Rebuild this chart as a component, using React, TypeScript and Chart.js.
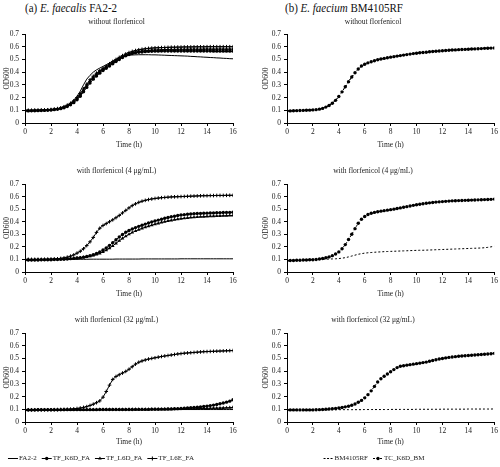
import React, { useEffect, useRef } from "react";
import { Chart, registerables } from "chart.js";
Chart.register(...registerables);

const FONT = '"Liberation Serif", "Times New Roman", serif';

const TIME = [
  0, 0.25, 0.5, 0.75, 1, 1.25, 1.5, 1.75, 2, 2.25, 2.5, 2.75, 3, 3.25, 3.5, 3.75,
  4, 4.25, 4.5, 4.75, 5, 5.25, 5.5, 5.75, 6, 6.25, 6.5, 6.75, 7, 7.25, 7.5, 7.75,
  8, 8.25, 8.5, 8.75, 9, 9.25, 9.5, 9.75, 10, 10.25, 10.5, 10.75, 11, 11.25, 11.5, 11.75,
  12, 12.25, 12.5, 12.75, 13, 13.25, 13.5, 13.75, 14, 14.25, 14.5, 14.75, 15, 15.25, 15.5, 15.75,
  16,
];

const X_TICKS = [0, 2, 4, 6, 8, 10, 12, 14, 16];
const Y_TICKS = [0, 0.1, 0.2, 0.3, 0.4, 0.5, 0.6, 0.7];

// ---- (a) E. faecalis, without florfenicol
const A1_FA22 = [
  0.100, 0.100, 0.100, 0.100, 0.101, 0.102, 0.103, 0.104, 0.106, 0.108, 0.112, 0.118,
  0.128, 0.140, 0.158, 0.180, 0.210, 0.250, 0.300, 0.345, 0.375, 0.400, 0.418, 0.432,
  0.445, 0.458, 0.472, 0.487, 0.500, 0.512, 0.522, 0.528, 0.533, 0.535, 0.536, 0.537,
  0.537, 0.537, 0.537, 0.536, 0.536, 0.535, 0.534, 0.533, 0.532, 0.531, 0.530, 0.529,
  0.528, 0.527, 0.526, 0.524, 0.523, 0.521, 0.520, 0.518, 0.517, 0.515, 0.514, 0.512,
  0.511, 0.509, 0.508, 0.506, 0.505,
];
const A1_K6D = [
  0.095, 0.095, 0.096, 0.096, 0.097, 0.098, 0.099, 0.100, 0.102, 0.105, 0.108, 0.113,
  0.120, 0.130, 0.143, 0.160, 0.182, 0.210, 0.245, 0.280, 0.315, 0.345, 0.370, 0.392,
  0.412, 0.430, 0.448, 0.466, 0.484, 0.500, 0.515, 0.528, 0.538, 0.546, 0.552, 0.556,
  0.559, 0.561, 0.563, 0.564, 0.565, 0.565, 0.566, 0.566, 0.566, 0.566, 0.566, 0.566,
  0.566, 0.566, 0.566, 0.566, 0.566, 0.566, 0.566, 0.566, 0.566, 0.566, 0.565, 0.565,
  0.565, 0.565, 0.565, 0.565, 0.565,
];
const A1_L6D = [
  0.098, 0.098, 0.098, 0.099, 0.099, 0.100, 0.101, 0.102, 0.104, 0.107, 0.111, 0.117,
  0.125, 0.136, 0.150, 0.168, 0.192, 0.222, 0.258, 0.295, 0.330, 0.360, 0.385, 0.405,
  0.423, 0.440, 0.457, 0.474, 0.490, 0.506, 0.520, 0.533, 0.544, 0.552, 0.558, 0.563,
  0.567, 0.570, 0.572, 0.574, 0.575, 0.576, 0.577, 0.578, 0.578, 0.579, 0.579, 0.580,
  0.580, 0.580, 0.581, 0.581, 0.581, 0.581, 0.581, 0.582, 0.582, 0.582, 0.582, 0.582,
  0.582, 0.582, 0.582, 0.582, 0.582,
];
const A1_L6E = [
  0.100, 0.100, 0.100, 0.101, 0.101, 0.102, 0.103, 0.104, 0.106, 0.109, 0.113, 0.119,
  0.128, 0.140, 0.155, 0.174, 0.200, 0.232, 0.268, 0.305, 0.340, 0.368, 0.392, 0.412,
  0.430, 0.448, 0.466, 0.484, 0.500, 0.516, 0.530, 0.543, 0.554, 0.563, 0.570, 0.576,
  0.580, 0.584, 0.587, 0.589, 0.591, 0.592, 0.593, 0.594, 0.595, 0.596, 0.596, 0.597,
  0.597, 0.598, 0.598, 0.598, 0.599, 0.599, 0.599, 0.599, 0.600, 0.600, 0.600, 0.600,
  0.600, 0.600, 0.600, 0.600, 0.600,
];

// ---- (b) E. faecium, without florfenicol
const B1_BM = [
  0.096, 0.096, 0.097, 0.098, 0.099, 0.100, 0.101, 0.102, 0.104, 0.106, 0.110, 0.116,
  0.126, 0.139, 0.156, 0.179, 0.209, 0.246, 0.286, 0.326, 0.363, 0.396, 0.426, 0.449,
  0.463, 0.474, 0.483, 0.491, 0.498, 0.504, 0.509, 0.514, 0.519, 0.523, 0.527, 0.531,
  0.535, 0.539, 0.543, 0.547, 0.550, 0.553, 0.556, 0.558, 0.561, 0.563, 0.565, 0.567,
  0.569, 0.571, 0.573, 0.575, 0.576, 0.578, 0.579, 0.580, 0.581, 0.583, 0.584, 0.585,
  0.586, 0.588, 0.589, 0.590, 0.591,
];
const B1_TC = [
  0.095, 0.095, 0.096, 0.097, 0.098, 0.099, 0.100, 0.101, 0.103, 0.105, 0.109, 0.115,
  0.125, 0.138, 0.155, 0.178, 0.208, 0.245, 0.285, 0.325, 0.362, 0.395, 0.425, 0.448,
  0.462, 0.473, 0.482, 0.490, 0.497, 0.503, 0.508, 0.513, 0.518, 0.522, 0.526, 0.530,
  0.534, 0.538, 0.542, 0.546, 0.549, 0.552, 0.555, 0.557, 0.560, 0.562, 0.564, 0.566,
  0.568, 0.570, 0.572, 0.574, 0.575, 0.577, 0.578, 0.579, 0.580, 0.582, 0.583, 0.584,
  0.585, 0.587, 0.588, 0.589, 0.590,
];

// ---- (a) with florfenicol 4 µg/mL
const A2_FA22 = [
  0.100, 0.100, 0.100, 0.100, 0.100, 0.100, 0.100, 0.100, 0.100, 0.100, 0.100, 0.100,
  0.101, 0.101, 0.101, 0.101, 0.101, 0.101, 0.101, 0.101, 0.102, 0.102, 0.102, 0.102,
  0.102, 0.102, 0.102, 0.102, 0.103, 0.103, 0.103, 0.103, 0.103, 0.103, 0.103, 0.103,
  0.104, 0.104, 0.104, 0.104, 0.104, 0.104, 0.104, 0.104, 0.104, 0.104, 0.104, 0.104,
  0.105, 0.105, 0.105, 0.105, 0.105, 0.105, 0.105, 0.105, 0.105, 0.105, 0.105, 0.105,
  0.105, 0.105, 0.105, 0.105, 0.105,
];
const A2_K6D = [
  0.095, 0.095, 0.095, 0.096, 0.096, 0.097, 0.097, 0.098, 0.098, 0.099, 0.100, 0.101,
  0.102, 0.104, 0.106, 0.108, 0.111, 0.114, 0.118, 0.123, 0.130, 0.138, 0.148, 0.160,
  0.175, 0.192, 0.212, 0.234, 0.256, 0.278, 0.298, 0.316, 0.330, 0.342, 0.353, 0.363,
  0.372, 0.381, 0.390, 0.398, 0.406, 0.413, 0.420, 0.427, 0.433, 0.439, 0.444, 0.449,
  0.453, 0.456, 0.459, 0.461, 0.463, 0.465, 0.466, 0.467, 0.468, 0.469, 0.470, 0.471,
  0.472, 0.473, 0.474, 0.474, 0.475,
];
const A2_L6D = [
  0.098, 0.098, 0.098, 0.098, 0.099, 0.099, 0.099, 0.100, 0.100, 0.101, 0.101, 0.102,
  0.103, 0.104, 0.106, 0.108, 0.110, 0.113, 0.116, 0.120, 0.125, 0.131, 0.139, 0.148,
  0.160, 0.174, 0.190, 0.208, 0.228, 0.248, 0.267, 0.284, 0.300, 0.314, 0.326, 0.337,
  0.347, 0.356, 0.364, 0.372, 0.380, 0.387, 0.394, 0.400, 0.406, 0.411, 0.416, 0.420,
  0.424, 0.427, 0.430, 0.433, 0.435, 0.437, 0.439, 0.440, 0.442, 0.443, 0.444, 0.445,
  0.446, 0.447, 0.448, 0.449, 0.450,
];
const A2_L6E = [
  0.100, 0.100, 0.100, 0.100, 0.100, 0.100, 0.101, 0.101, 0.102, 0.103, 0.105, 0.108,
  0.112, 0.118, 0.126, 0.136, 0.150, 0.165, 0.185, 0.210, 0.240, 0.275, 0.315, 0.348,
  0.370, 0.385, 0.400, 0.415, 0.432, 0.450, 0.470, 0.490, 0.510, 0.528, 0.542, 0.554,
  0.563, 0.570, 0.576, 0.581, 0.585, 0.588, 0.591, 0.593, 0.595, 0.597, 0.598, 0.599,
  0.600, 0.601, 0.602, 0.603, 0.604, 0.605, 0.606, 0.607, 0.607, 0.608, 0.608, 0.609,
  0.609, 0.609, 0.610, 0.610, 0.610,
];

// ---- (b) with florfenicol 4 µg/mL
const B2_BM = [
  0.090, 0.091, 0.092, 0.093, 0.094, 0.095, 0.096, 0.097, 0.098, 0.099, 0.100, 0.101,
  0.102, 0.103, 0.104, 0.105, 0.107, 0.110, 0.114, 0.120, 0.127, 0.134, 0.141, 0.146,
  0.150, 0.153, 0.155, 0.157, 0.159, 0.160, 0.162, 0.163, 0.164, 0.165, 0.166, 0.167,
  0.168, 0.169, 0.170, 0.171, 0.172, 0.173, 0.173, 0.174, 0.175, 0.176, 0.177, 0.178,
  0.179, 0.180, 0.181, 0.182, 0.183, 0.184, 0.185, 0.186, 0.187, 0.188, 0.189, 0.190,
  0.191, 0.193, 0.196, 0.200, 0.205,
];
const B2_TC = [
  0.090, 0.091, 0.092, 0.093, 0.094, 0.095, 0.096, 0.097, 0.098, 0.100, 0.103, 0.107,
  0.113, 0.120, 0.130, 0.143, 0.160, 0.185, 0.218, 0.258, 0.300, 0.345, 0.388, 0.420,
  0.442, 0.457, 0.467, 0.474, 0.479, 0.484, 0.488, 0.492, 0.496, 0.500, 0.505, 0.510,
  0.515, 0.520, 0.525, 0.530, 0.535, 0.539, 0.543, 0.547, 0.550, 0.553, 0.556, 0.558,
  0.560, 0.562, 0.564, 0.566, 0.567, 0.568, 0.569, 0.570, 0.571, 0.572, 0.573, 0.574,
  0.575, 0.576, 0.577, 0.578, 0.580,
];

// ---- (a) with florfenicol 32 µg/mL
const A3_FA22 = [
  0.095, 0.095, 0.095, 0.095, 0.095, 0.095, 0.095, 0.095, 0.095, 0.095, 0.095, 0.095,
  0.095, 0.095, 0.095, 0.095, 0.096, 0.096, 0.096, 0.096, 0.096, 0.096, 0.096, 0.096,
  0.096, 0.096, 0.096, 0.096, 0.096, 0.096, 0.096, 0.096, 0.097, 0.097, 0.097, 0.097,
  0.097, 0.097, 0.097, 0.097, 0.097, 0.097, 0.097, 0.097, 0.097, 0.097, 0.097, 0.097,
  0.098, 0.098, 0.098, 0.098, 0.098, 0.098, 0.098, 0.098, 0.098, 0.098, 0.098, 0.098,
  0.098, 0.098, 0.098, 0.098, 0.098,
];
const A3_K6D = [
  0.095, 0.095, 0.095, 0.095, 0.096, 0.096, 0.096, 0.096, 0.096, 0.096, 0.096, 0.097,
  0.097, 0.097, 0.097, 0.097, 0.097, 0.097, 0.097, 0.097, 0.097, 0.097, 0.097, 0.098,
  0.098, 0.098, 0.098, 0.098, 0.098, 0.098, 0.098, 0.098, 0.098, 0.098, 0.099, 0.099,
  0.099, 0.099, 0.099, 0.100, 0.100, 0.100, 0.101, 0.101, 0.102, 0.103, 0.104, 0.105,
  0.106, 0.108, 0.110, 0.112, 0.114, 0.116, 0.119, 0.122, 0.125, 0.129, 0.133, 0.138,
  0.143, 0.149, 0.156, 0.164, 0.175,
];
const A3_L6D = [
  0.096, 0.096, 0.096, 0.096, 0.096, 0.096, 0.096, 0.096, 0.096, 0.096, 0.097, 0.097,
  0.097, 0.097, 0.097, 0.097, 0.097, 0.097, 0.097, 0.097, 0.097, 0.097, 0.098, 0.098,
  0.098, 0.098, 0.098, 0.098, 0.098, 0.098, 0.098, 0.098, 0.099, 0.099, 0.099, 0.099,
  0.099, 0.099, 0.099, 0.100, 0.100, 0.100, 0.100, 0.101, 0.101, 0.101, 0.102, 0.102,
  0.103, 0.103, 0.104, 0.104, 0.105, 0.105, 0.106, 0.107, 0.107, 0.108, 0.109, 0.109,
  0.110, 0.111, 0.112, 0.113, 0.115,
];
const A3_L6E = [
  0.095, 0.095, 0.095, 0.095, 0.095, 0.095, 0.096, 0.096, 0.096, 0.097, 0.097, 0.098,
  0.099, 0.100, 0.101, 0.103, 0.106, 0.110, 0.115, 0.121, 0.130, 0.140, 0.152, 0.166,
  0.195, 0.240, 0.290, 0.335, 0.358, 0.372, 0.385, 0.398, 0.415, 0.435, 0.455, 0.470,
  0.480, 0.488, 0.495, 0.500, 0.505, 0.510, 0.515, 0.519, 0.523, 0.527, 0.531, 0.535,
  0.538, 0.541, 0.543, 0.545, 0.547, 0.549, 0.551, 0.553, 0.554, 0.555, 0.556, 0.557,
  0.558, 0.559, 0.560, 0.561, 0.562,
];

// ---- (b) with florfenicol 32 µg/mL
const B3_BM = [
  0.095, 0.095, 0.095, 0.095, 0.095, 0.095, 0.095, 0.095, 0.096, 0.096, 0.096, 0.096,
  0.096, 0.096, 0.096, 0.096, 0.097, 0.097, 0.097, 0.097, 0.097, 0.097, 0.097, 0.097,
  0.098, 0.098, 0.098, 0.098, 0.098, 0.098, 0.098, 0.098, 0.099, 0.099, 0.099, 0.099,
  0.099, 0.099, 0.099, 0.099, 0.100, 0.100, 0.100, 0.100, 0.100, 0.100, 0.100, 0.100,
  0.101, 0.101, 0.101, 0.101, 0.101, 0.101, 0.101, 0.101, 0.102, 0.102, 0.102, 0.102,
  0.102, 0.102, 0.102, 0.102, 0.103,
];
const B3_TC = [
  0.095, 0.095, 0.095, 0.095, 0.095, 0.095, 0.095, 0.095, 0.095, 0.096, 0.097, 0.098,
  0.100, 0.102, 0.104, 0.106, 0.110, 0.114, 0.119, 0.124, 0.132, 0.142, 0.155, 0.170,
  0.190, 0.215, 0.245, 0.280, 0.315, 0.340, 0.360, 0.378, 0.395, 0.412, 0.428, 0.438,
  0.443, 0.447, 0.451, 0.455, 0.459, 0.463, 0.467, 0.471, 0.478, 0.484, 0.490, 0.496,
  0.500, 0.504, 0.508, 0.511, 0.514, 0.517, 0.519, 0.521, 0.523, 0.525, 0.527, 0.529,
  0.531, 0.533, 0.535, 0.537, 0.540,
];

const SUBTITLES = [
  "without florfenicol",
  "with florfenicol (4 μg/mL)",
  "with florfenicol (32 μg/mL)",
];

type Kind = "plain" | "circle" | "triangle" | "cross" | "dash" | "dashCircle";
type Series = { label: string; values: number[]; kind: Kind };

const A_LABELS = ["FA2-2", "TF_K6D_FA", "TF_L6D_FA", "TF_L6E_FA"];
const A_KINDS: Kind[] = ["plain", "circle", "triangle", "cross"];
const B_LABELS = ["BM4105RF", "TC_K6D_BM"];
const B_KINDS: Kind[] = ["dash", "dashCircle"];

const A_DATA = [
  [A1_FA22, A1_K6D, A1_L6D, A1_L6E],
  [A2_FA22, A2_K6D, A2_L6D, A2_L6E],
  [A3_FA22, A3_K6D, A3_L6D, A3_L6E],
];
const B_DATA = [
  [B1_BM, B1_TC],
  [B2_BM, B2_TC],
  [B3_BM, B3_TC],
];

const ROWS = [
  { canvasTop: 14, subY: 22, plotTop: 34, plotBottom: 123, timeY: 145 },
  { canvasTop: 160, subY: 171, plotTop: 184, plotBottom: 272, timeY: 294 },
  { canvasTop: 310, subY: 320, plotTop: 333, plotBottom: 422, timeY: 442 },
];
const COLS = [
  { canvasLeft: 0, plotLeft: 25, plotRight: 233, odX: 7.5, legendCenter: 101 },
  { canvasLeft: 250, plotLeft: 287, plotRight: 496, odX: 266, legendCenter: 374 },
];
const LEGEND_Y = 458;
const PAGE_H = 467;

function styleFor(kind: Kind) {
  const base: any = {
    borderColor: "#000",
    backgroundColor: "#000",
    borderWidth: 1,
    pointBackgroundColor: "#000",
    pointBorderColor: "#000",
    pointBorderWidth: 0,
    pointRadius: 0,
    tension: 0,
    fill: false,
  };
  if (kind === "circle") { base.pointStyle = "circle"; base.pointRadius = 1.7; }
  if (kind === "triangle") { base.pointStyle = "triangle"; base.pointRadius = 2.1; }
  if (kind === "cross") { base.pointStyle = "cross"; base.pointRadius = 1.8; base.pointBorderWidth = 1; }
  if (kind === "dash") { base.borderDash = [2, 2]; }
  if (kind === "dashCircle") { base.borderDash = [2, 2]; base.pointStyle = "circle"; base.pointRadius = 1.7; }
  return base;
}

function drawMarker(ctx: CanvasRenderingContext2D, kind: Kind, x: number, y: number) {
  ctx.fillStyle = "#000";
  ctx.strokeStyle = "#000";
  if (kind === "circle" || kind === "dashCircle") {
    ctx.beginPath();
    ctx.arc(x, y, 1.7, 0, Math.PI * 2);
    ctx.fill();
  } else if (kind === "triangle") {
    const r = 2.1;
    ctx.beginPath();
    ctx.moveTo(x, y - r);
    ctx.lineTo(x + r * 0.866, y + r * 0.5);
    ctx.lineTo(x - r * 0.866, y + r * 0.5);
    ctx.closePath();
    ctx.fill();
  } else if (kind === "cross") {
    ctx.lineWidth = 1;
    ctx.setLineDash([]);
    ctx.beginPath();
    ctx.moveTo(x, y - 2);
    ctx.lineTo(x, y + 2);
    ctx.stroke();
  }
}

const legendPlugin = {
  id: "seriesLegend",
  afterDraw(chart: any, _args: any, opts: any) {
    if (!opts || !opts.show) return;
    const ctx: CanvasRenderingContext2D = chart.ctx;
    const items: Series[] = opts.items;
    ctx.save();
    ctx.font = `7px ${FONT}`;
    ctx.textBaseline = "middle";
    const lineLen = 10;
    const gap = 5;
    const widths = items.map((it) => lineLen + 1 + ctx.measureText(it.label).width);
    const total = widths.reduce((a, b) => a + b, 0) + gap * (items.length - 1);
    let x = opts.centerX - total / 2;
    const y = opts.y;
    items.forEach((it, i) => {
      ctx.strokeStyle = "#000";
      ctx.lineWidth = 1;
      ctx.setLineDash(it.kind === "dash" || it.kind === "dashCircle" ? [2, 1.5] : []);
      ctx.beginPath();
      ctx.moveTo(x, y + 0.5);
      ctx.lineTo(x + lineLen, y + 0.5);
      ctx.stroke();
      ctx.setLineDash([]);
      drawMarker(ctx, it.kind, x + lineLen / 2, y + 0.5);
      ctx.fillStyle = "#222";
      ctx.fillText(it.label, x + lineLen + 1, y + 0.5);
      x += widths[i] + gap;
    });
    ctx.restore();
  },
};

function Panel({ row, col, series, legend }: { row: number; col: number; series: Series[]; legend: boolean }) {
  const ref = useRef<HTMLCanvasElement>(null);
  const R = ROWS[row];
  const C = COLS[col];
  const xScaleBottom = R.timeY + 6;
  const canvasBottom = legend ? PAGE_H : xScaleBottom;
  const height = canvasBottom - R.canvasTop;
  const width = 250;

  useEffect(() => {
    if (!ref.current) return;
    const subLH = 7.5 * 1.2;
    const subPadTop = R.subY - R.canvasTop - subLH / 2;
    const subPadBottom = R.plotTop - R.canvasTop - subLH - subPadTop;
    const axisLH = 7.5 * 1.2;
    const chart = new Chart(ref.current, {
      type: "line",
      data: {
        datasets: series.map((s) => ({
          label: s.label,
          data: TIME.map((t, i) => ({ x: t, y: s.values[i] })),
          ...styleFor(s.kind),
        })),
      },
      options: {
        animation: false,
        responsive: false,
        devicePixelRatio: 1,
        events: [],
        layout: {
          padding: {
            left: 0,
            right: C.canvasLeft + width - C.plotRight,
            top: 0,
            bottom: canvasBottom - xScaleBottom,
          },
        },
        plugins: {
          legend: { display: false },
          tooltip: { enabled: false },
          title: {
            display: true,
            text: SUBTITLES[row],
            color: "#222",
            font: { family: FONT, size: 7.5, weight: "normal", lineHeight: 1.2 },
            padding: { top: subPadTop, bottom: subPadBottom },
          },
          seriesLegend: {
            show: legend,
            items: series,
            centerX: C.legendCenter - C.canvasLeft,
            y: LEGEND_Y - R.canvasTop,
          },
        } as any,
        scales: {
          x: {
            type: "linear",
            min: 0,
            max: 16,
            afterBuildTicks: (s: any) => { s.ticks = X_TICKS.map((v) => ({ value: v })); },
            afterFit: (s: any) => { s.height = xScaleBottom - R.plotBottom; },
            ticks: {
              autoSkip: false,
              maxRotation: 0,
              padding: 2,
              color: "#222",
              font: { family: FONT, size: 7.5 },
            },
            grid: { drawOnChartArea: false, drawTicks: true, tickLength: 3, color: "#000" },
            border: { color: "#000", width: 1 },
            title: {
              display: true,
              text: "Time (h)",
              color: "#222",
              font: { family: FONT, size: 7.5, lineHeight: 1.2 },
              padding: { top: 0, bottom: 1 },
            },
          },
          y: {
            type: "linear",
            min: 0,
            max: 0.7,
            afterBuildTicks: (s: any) => { s.ticks = Y_TICKS.map((v) => ({ value: v })); },
            afterFit: (s: any) => { s.width = C.plotLeft - C.canvasLeft; },
            ticks: {
              autoSkip: false,
              padding: 3,
              color: "#222",
              font: { family: FONT, size: 7.5 },
              callback: (v: any) => (v === 0 ? "0" : Number(v).toFixed(1)),
            },
            grid: { drawOnChartArea: false, drawTicks: true, tickLength: 3, color: "#000" },
            border: { color: "#000", width: 1 },
            title: {
              display: true,
              text: "OD600",
              color: "#222",
              font: { family: FONT, size: 7.5, lineHeight: 1.2 },
              padding: { top: C.odX - C.canvasLeft - axisLH / 2, bottom: 0 },
            },
          },
        },
      },
      plugins: [legendPlugin],
    } as any);
    return () => chart.destroy();
  }, []);

  return (
    <canvas
      ref={ref}
      width={width}
      height={height}
      style={{ position: "absolute", left: C.canvasLeft, top: R.canvasTop, width, height }}
    />
  );
}

export default function App() {
  const headingStyle: React.CSSProperties = {
    position: "absolute",
    top: 0,
    fontFamily: FONT,
    fontSize: 12.5,
    lineHeight: "16px",
    whiteSpace: "nowrap",
    color: "#111",
    transform: "scaleX(0.88)",
    transformOrigin: "left center",
  };
  return (
    <div style={{ position: "absolute", left: 0, top: 0, width: 500, height: 467, background: "#fff", overflow: "hidden" }}>
      <div style={{ ...headingStyle, left: 25 }}>
        (a) <i>E. faecalis</i> FA2-2
      </div>
      <div style={{ ...headingStyle, left: 285 }}>
        (b) <i>E. faecium</i> BM4105RF
      </div>
      {[0, 1, 2].map((r) => (
        <React.Fragment key={r}>
          <Panel
            row={r}
            col={0}
            legend={r === 2}
            series={A_DATA[r].map((v, i) => ({ label: A_LABELS[i], values: v, kind: A_KINDS[i] }))}
          />
          <Panel
            row={r}
            col={1}
            legend={r === 2}
            series={B_DATA[r].map((v, i) => ({ label: B_LABELS[i], values: v, kind: B_KINDS[i] }))}
          />
        </React.Fragment>
      ))}
    </div>
  );
}
